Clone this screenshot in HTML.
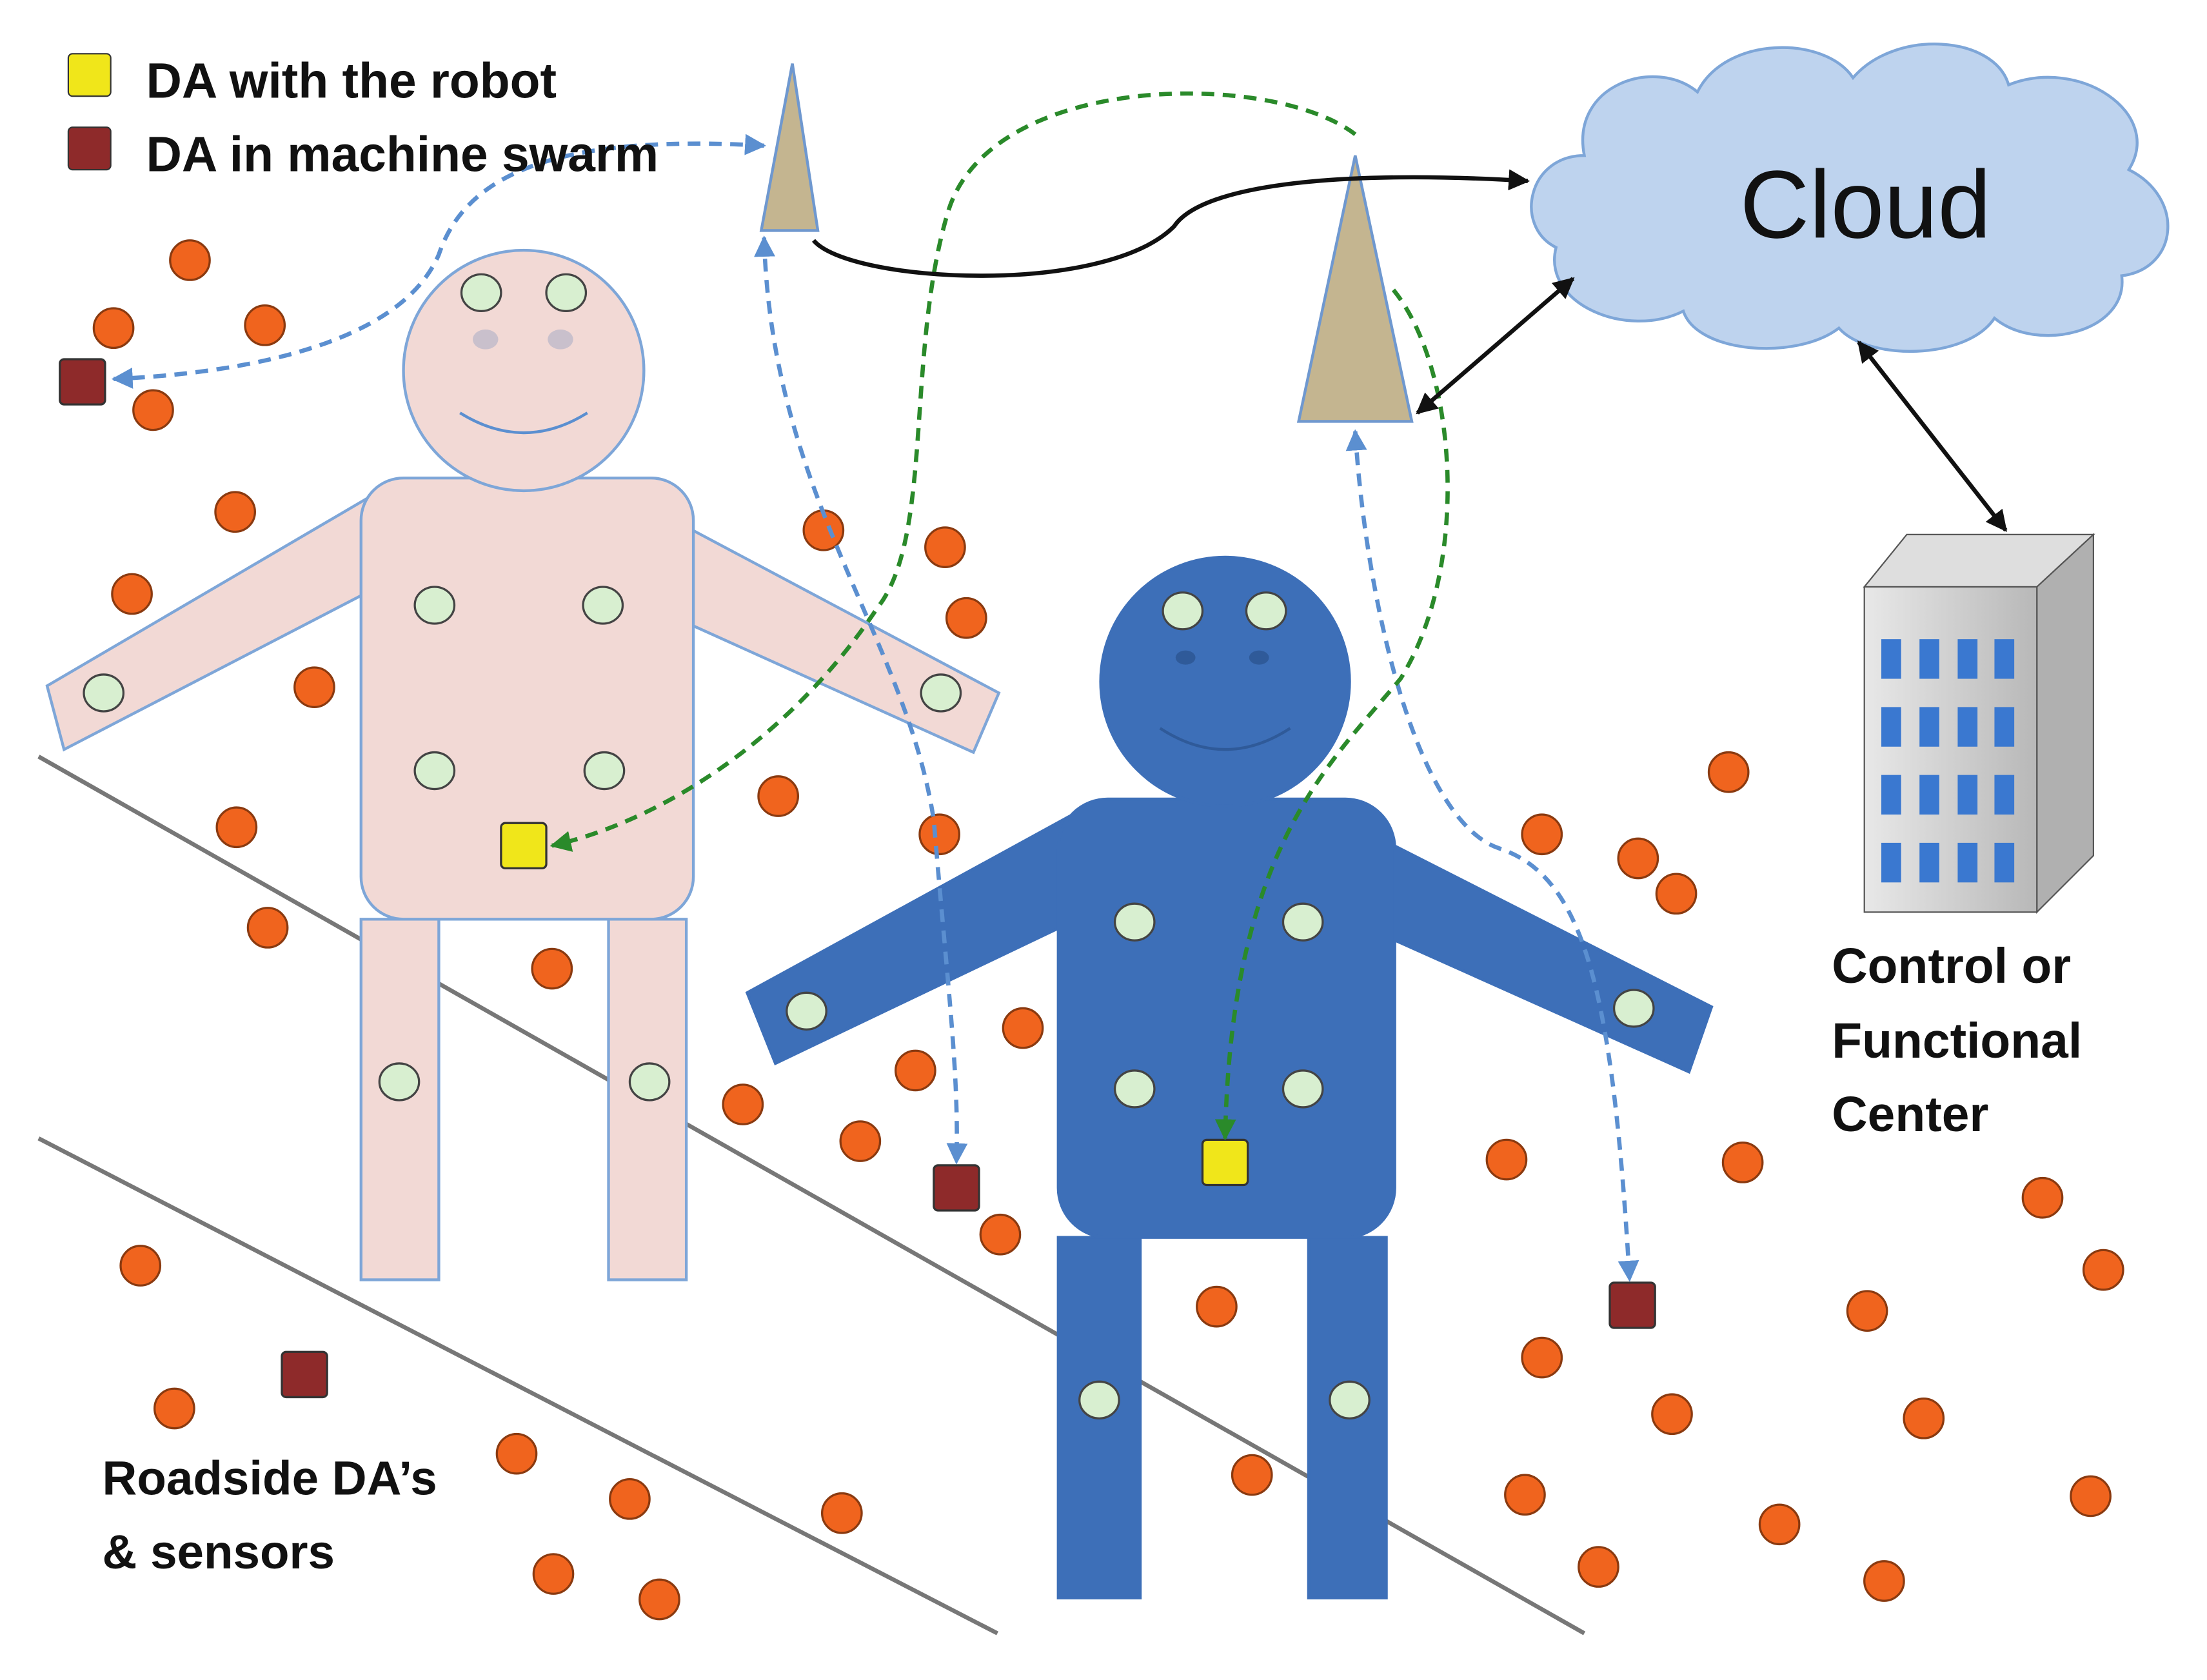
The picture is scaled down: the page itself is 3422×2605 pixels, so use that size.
<!DOCTYPE html>
<html><head><meta charset="utf-8"><style>
html,body{margin:0;padding:0;background:#fff;}
svg{display:block;}
text{font-family:"Liberation Sans",sans-serif;}
</style></head><body>
<svg width="3422" height="2605" viewBox="0 0 1560 1188" xmlns="http://www.w3.org/2000/svg">
<defs>
<marker id="ab" viewBox="0 0 10 10" refX="9" refY="5" markerWidth="5" markerHeight="5" orient="auto-start-reverse"><path d="M0,0L10,5L0,10z" fill="#5b8fd0"/></marker>
<marker id="ag" viewBox="0 0 10 10" refX="9" refY="5" markerWidth="5" markerHeight="5" orient="auto-start-reverse"><path d="M0,0L10,5L0,10z" fill="#2a8a2a"/></marker>
<marker id="ak" viewBox="0 0 10 10" refX="9" refY="5" markerWidth="5" markerHeight="5" orient="auto-start-reverse"><path d="M0,0L10,5L0,10z" fill="#111"/></marker>
<linearGradient id="bg" x1="0" x2="1"><stop offset="0" stop-color="#e8e8e8"/><stop offset="1" stop-color="#b8b8b8"/></linearGradient>
</defs>
<rect width="1560" height="1188" fill="#fff"/>

<g stroke="#777" stroke-width="3">
<line x1="27" y1="535" x2="1120" y2="1155"/><line x1="27" y1="805" x2="705" y2="1155"/>
</g>

<g fill="#f2d9d5" stroke="#7ea6d8" stroke-width="2">
<polygon points="33,485 272,345 292,402 45,530"/>
<polygon points="452,355 706,490 688,532 440,420"/>
<rect x="255" y="650" width="55" height="255"/>
<rect x="430" y="650" width="55" height="255"/>
<rect x="255" y="338" width="235" height="312" rx="30"/>
<circle cx="370" cy="262" r="85"/>
<ellipse cx="343" cy="240" rx="9" ry="7" fill="#c9c0cc" stroke="none"/>
<ellipse cx="396" cy="240" rx="9" ry="7" fill="#c9c0cc" stroke="none"/>
<path d="M325,292 Q370,320 415,292" fill="none" stroke="#5b8fd0"/>
</g>

<g fill="#3d6fb8" stroke="#3d6fb8" stroke-width="2">
<polygon points="528,702 760,575 772,645 548,752"/>
<polygon points="960,585 1210,712 1194,758 975,660"/>
<rect x="748" y="875" width="58" height="255"/>
<rect x="925" y="875" width="55" height="255"/>
<rect x="748" y="565" width="238" height="310" rx="35"/>
<circle cx="866" cy="482" r="88"/>
<ellipse cx="838" cy="465" rx="7" ry="5" fill="#2f5a99" stroke="none"/>
<ellipse cx="890" cy="465" rx="7" ry="5" fill="#2f5a99" stroke="none"/>
<path d="M820,515 Q866,545 912,515" fill="none" stroke="#2f5a99"/>
</g>

<g fill="#c4b590" stroke="#6f98cf" stroke-width="2">
<polygon points="560,45 538,163 578,163"/>
<polygon points="958,110 918,298 998,298"/>
</g>

<g>
<path d="M1100,175 C1070,160 1080,110 1120,110 C1110,60 1170,40 1200,65 C1220,25 1290,25 1310,55 C1340,20 1410,25 1420,60 C1470,40 1530,80 1505,120 C1545,140 1540,190 1500,195 C1505,235 1440,250 1410,225 C1390,255 1320,255 1300,232 C1270,255 1200,250 1190,220 C1150,240 1090,215 1100,175 Z" fill="#bed3ee" stroke="#7ea6d8" stroke-width="2"/>
<text x="1230" y="168" font-size="68" fill="#111">Cloud</text>
</g>

<g>
<polygon points="1318,415 1348,378 1480,378 1440,415" fill="#dedede" stroke="#555"/>
<polygon points="1440,415 1480,378 1480,605 1440,645" fill="#b0b0b0" stroke="#555"/>
<rect x="1318" y="415" width="122" height="230" fill="url(#bg)" stroke="#555"/>
<g fill="#3a78d0">
<rect x="1330" y="452" width="14" height="28"/><rect x="1357" y="452" width="14" height="28"/><rect x="1384" y="452" width="14" height="28"/><rect x="1410" y="452" width="14" height="28"/>
<rect x="1330" y="500" width="14" height="28"/><rect x="1357" y="500" width="14" height="28"/><rect x="1384" y="500" width="14" height="28"/><rect x="1410" y="500" width="14" height="28"/>
<rect x="1330" y="548" width="14" height="28"/><rect x="1357" y="548" width="14" height="28"/><rect x="1384" y="548" width="14" height="28"/><rect x="1410" y="548" width="14" height="28"/>
<rect x="1330" y="596" width="14" height="28"/><rect x="1357" y="596" width="14" height="28"/><rect x="1384" y="596" width="14" height="28"/><rect x="1410" y="596" width="14" height="28"/>
</g>
</g>

<g id="oranges" fill="#f0641e" stroke="#8a3a10" stroke-width="1.5"></g>
<g id="greens" fill="#d8efd0" stroke="#444" stroke-width="1.5"></g>

<g stroke="#333" stroke-width="1.5">
<rect x="354" y="582" width="32" height="32" rx="3" fill="#f0e61a"/>
<rect x="850" y="806" width="32" height="32" rx="3" fill="#f0e61a"/>
<rect x="42" y="254" width="32" height="32" rx="3" fill="#8e2a2a"/>
<rect x="660" y="824" width="32" height="32" rx="3" fill="#8e2a2a"/>
<rect x="1138" y="907" width="32" height="32" rx="3" fill="#8e2a2a"/>
<rect x="199" y="956" width="32" height="32" rx="3" fill="#8e2a2a"/>
</g>

<g fill="none" stroke-width="3">
<path d="M540,103 C400,95 330,120 310,180 C280,250 150,265 80,268" stroke="#5b8fd0" stroke-dasharray="9,6" marker-start="url(#ab)" marker-end="url(#ab)"/>
<path d="M540,168 C545,350 640,450 660,580 C670,700 678,760 676,822" stroke="#5b8fd0" stroke-dasharray="9,6" marker-start="url(#ab)" marker-end="url(#ab)"/>
<path d="M958,305 C965,420 1000,580 1060,600 C1120,620 1140,700 1152,905" stroke="#5b8fd0" stroke-dasharray="9,6" marker-start="url(#ab)" marker-end="url(#ab)"/>
<path d="M958,95 C900,50 700,50 670,150 C640,250 660,380 620,430 C560,520 470,580 390,598" stroke="#2a8a2a" stroke-dasharray="9,6" marker-end="url(#ag)"/>
<path d="M985,205 C1030,260 1040,400 990,480 C940,540 870,600 866,805" stroke="#2a8a2a" stroke-dasharray="9,6" marker-end="url(#ag)"/>
<path d="M575,170 C600,200 780,210 830,160 C850,130 950,120 1080,128" stroke="#111" marker-end="url(#ak)"/>
<line x1="1002" y1="292" x2="1112" y2="197" stroke="#111" marker-start="url(#ak)" marker-end="url(#ak)"/>
<line x1="1314" y1="242" x2="1418" y2="375" stroke="#111" marker-start="url(#ak)" marker-end="url(#ak)"/>
</g>

<g>
<rect x="48" y="38" width="30" height="30" rx="3" fill="#f0e61a" stroke="#333"/>
<text x="103" y="69" font-size="35" font-weight="bold" fill="#111">DA with the robot</text>
<rect x="48" y="90" width="30" height="30" rx="3" fill="#8e2a2a" stroke="#333"/>
<text x="103" y="121" font-size="35" font-weight="bold" fill="#111">DA in machine swarm</text>
</g>
<g font-weight="bold" fill="#111">
<text x="1295" y="695" font-size="35">Control or</text>
<text x="1295" y="748" font-size="35">Functional</text>
<text x="1295" y="800" font-size="35">Center</text>
<text x="72" y="1057" font-size="34">Roadside DA’s</text>
<text x="72" y="1109" font-size="34">&amp; sensors</text>
</g>

<script>
const orangeX=[134,80,187,108,166,93,222,167,189,390,582,668,683,550,664,723,647,525,608,707,1222,1090,1158,1185,1065,1232,1444,1487,1320,1090,1182,1360,99,123,365,445,595,391,466,860,885,1078,1258,1130,1332,1478];
const orangeY=[184,232,230,290,362,420,486,585,656,685,375,387,437,563,590,727,757,781,807,873,546,590,607,632,820,822,847,898,927,960,1000,1003,895,996,1028,1060,1070,1113,1131,924,1043,1057,1078,1108,1118,1058];
const greenX=[340,400,307,426,73,665,307,427,282,459,836,895,802,921,570,1155,802,921,777,954];
const greenY=[207,207,428,428,490,490,545,545,765,765,432,432,652,652,715,713,770,770,990,990];
const NS='http://www.w3.org/2000/svg';
const og=document.getElementById('oranges'),gg=document.getElementById('greens');
orangeX.forEach((x,i)=>{const c=document.createElementNS(NS,'circle');c.setAttribute('cx',x);c.setAttribute('cy',orangeY[i]);c.setAttribute('r',14);


og.appendChild(c);});
greenX.forEach((x,i)=>{const c=document.createElementNS(NS,'ellipse');c.setAttribute('cx',x);c.setAttribute('cy',greenY[i]);c.setAttribute('rx',14);c.setAttribute('ry',13);


gg.appendChild(c);});
</script>
</svg>
</body></html>
